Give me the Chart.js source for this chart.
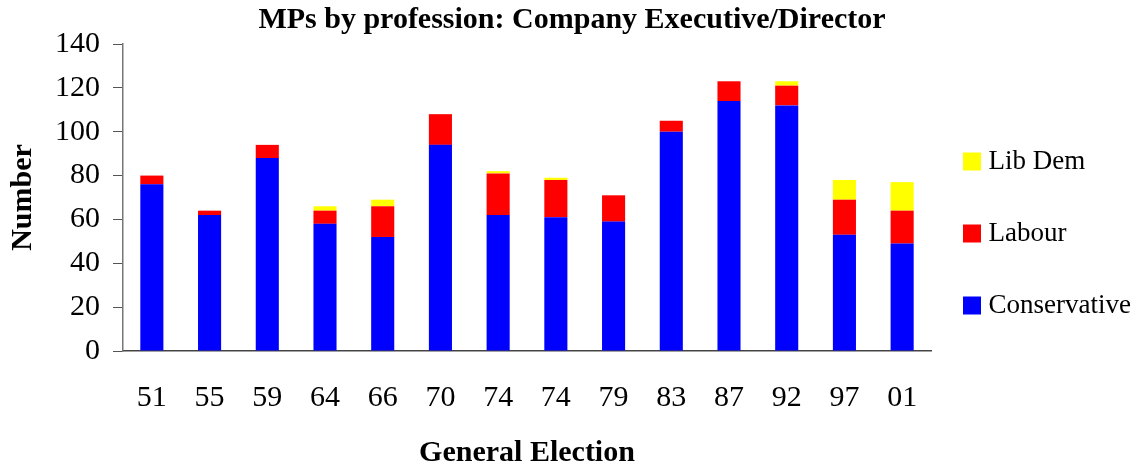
<!DOCTYPE html>
<html>
<head>
<meta charset="utf-8">
<script src="https://cdn.jsdelivr.net/npm/chart.js@4/dist/chart.umd.min.js"></script>
<style>
  html, body { margin: 0; padding: 0; background: #fff; overflow: hidden; }
  #wrap { width: 1144px; height: 467px; overflow: hidden; }
  canvas { display: block; }
</style>
</head>
<body>
<div id="wrap"><canvas id="c" width="1144" height="467"></canvas></div>
<script>
const categories = ['51','55','59','64','66','70','74','74','79','83','87','92','97','01'];
const conservative = [76, 62, 88, 58, 52, 94, 62, 61, 59, 100, 114, 112, 53, 49];
const labour       = [4, 2, 6, 6, 14, 14, 19, 17, 12, 5, 9, 9, 16, 15];
const libDem       = [0, 0, 0, 2, 3, 0, 1, 1, 0, 0, 0, 2, 9, 13];
const yTicks = [0, 20, 40, 60, 80, 100, 120, 140];

const FONT = "'Liberation Serif', 'Times New Roman', serif";

const legendShift = {
  id: 'legendShift',
  afterLayout(chart) {
    const l = chart.legend;
    if (l) { l.left -= 7; l.right -= 7; }
  }
};

new Chart(document.getElementById('c'), {
  type: 'bar',
  data: {
    labels: categories,
    datasets: [
      { label: 'Conservative', data: conservative, backgroundColor: '#0000FF', borderWidth: 0 },
      { label: 'Labour', data: labour, backgroundColor: '#FF0000', borderWidth: 0 },
      { label: 'Lib Dem', data: libDem, backgroundColor: '#FFFF00', borderWidth: 0 }
    ]
  },
  options: {
    responsive: false,
    animation: false,
    devicePixelRatio: 1,
    layout: { padding: 0 },
    datasets: { bar: { barPercentage: 0.4, categoryPercentage: 1.0 } },
    plugins: {
      title: {
        display: true,
        text: 'MPs by profession: Company Executive/Director',
        color: '#000',
        font: { family: FONT, size: 30, weight: 'bold' },
        padding: { top: 2, bottom: 6 }
      },
      legend: {
        display: true,
        position: 'right',
        reverse: true,
        maxWidth: 213,
        labels: {
          color: '#000',
          font: { family: FONT, size: 27 },
          usePointStyle: true,
          pointStyle: 'rect',
          boxWidth: 6,
          boxHeight: 18,
          padding: 45
        }
      },
      tooltip: { enabled: false }
    },
    scales: {
      x: {
        stacked: true,
        grid: { display: false, drawTicks: false },
        border: { display: true, color: '#444', width: 1.5 },
        ticks: { color: '#000', font: { family: FONT, size: 30 }, padding: 29, maxRotation: 0, autoSkip: false },
        title: {
          display: true,
          text: 'General Election',
          color: '#000',
          font: { family: FONT, size: 30, weight: 'bold', lineHeight: 16 / 30 },
          padding: { top: 0, bottom: 6 }
        }
      },
      y: {
        stacked: true,
        min: 0,
        max: 140,
        afterBuildTicks(scale) { scale.ticks = yTicks.map(v => ({ value: v })); },
        grid: { display: true, drawOnChartArea: false, drawTicks: true, tickLength: 10, color: '#555' },
        border: { display: true, color: '#777', width: 1.5 },
        ticks: { color: '#000', font: { family: FONT, size: 30 }, padding: 13 },
        title: {
          display: true,
          text: 'Number',
          color: '#000',
          font: { family: FONT, size: 30, weight: 'bold' },
          padding: { top: 5, bottom: 1 }
        }
      }
    }
  },
  plugins: [legendShift]
});
</script>
</body>
</html>
